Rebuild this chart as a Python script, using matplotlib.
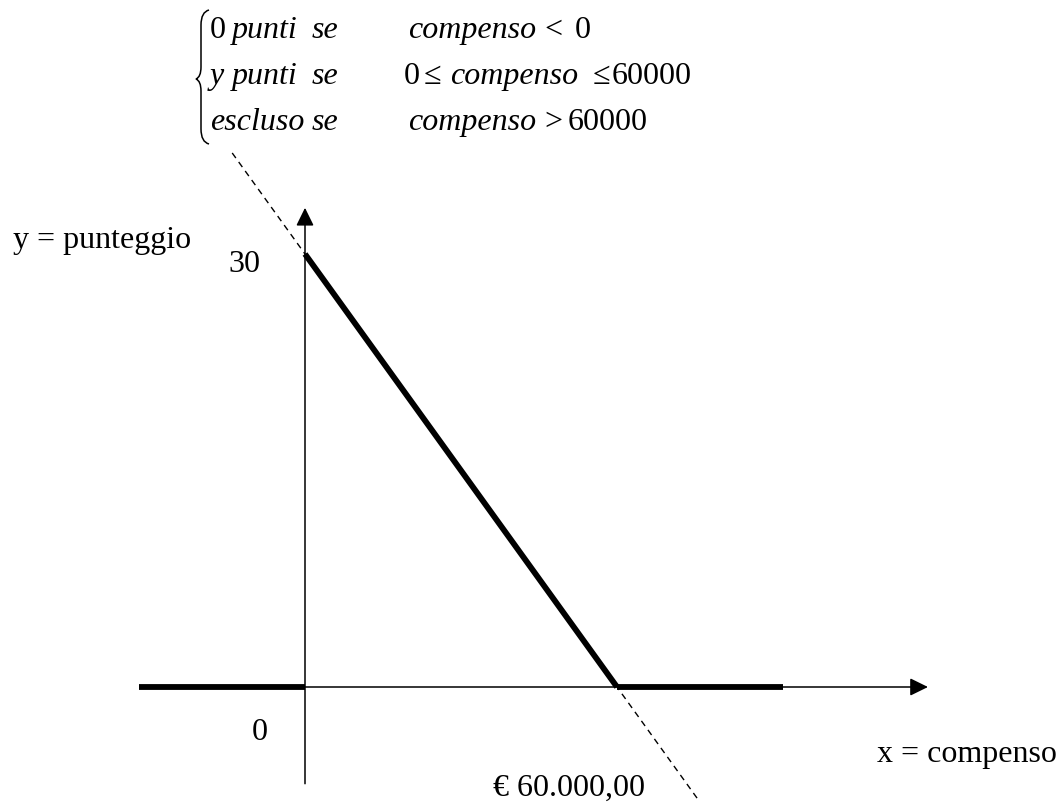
import matplotlib
matplotlib.use('Agg')
import matplotlib.pyplot as plt
from matplotlib.path import Path
from matplotlib.patches import PathPatch

plt.rcParams['font.family'] = ['Liberation Serif', 'DejaVu Serif']

# dati: punteggio in funzione del compenso
compenso_soglia = 60000
punteggio_max = 30

retta_x = [0, 60000]           # tratto y = 30 - compenso / 2000
retta_y = [30, 0]
zero_sx_x = [-32000, 0]        # compenso < 0 -> 0 punti
zero_sx_y = [0, 0]
zero_dx_x = [60000, 92000]     # compenso > 60000 -> escluso
zero_dx_y = [0, 0]
tratteggio_x = [-14000, 75500]  # prolungamento della retta
tratteggio_y = [37, -7.75]

asse_x = [0, 119800]
asse_y = [-6.7, 33.2]

W, H = 1058, 803
fig = plt.figure(figsize=(W / 100, H / 100), dpi=100)
ax = fig.add_axes([0, 0, 1, 1])

# scala: origine in pixel (305, 688), 60000 -> 312 px, 30 -> 433 px
ox, oy = 305, 688
sx = compenso_soglia / 312.0
sy = punteggio_max / 433.0
ax.set_xlim(-ox * sx, (W - ox) * sx)
ax.set_ylim((oy - H) * sy, oy * sy)
ax.axis('off')


def px(x, y):
    return x / W, 1 - y / H


# assi con freccia
freccia = dict(arrowstyle='-|>,head_length=0.55,head_width=0.27',
               mutation_scale=20, lw=1.1, color='black',
               shrinkA=0, shrinkB=0)
ax.annotate('', xy=(asse_x[1], 0), xytext=(asse_x[0], 0), arrowprops=freccia)
ax.annotate('', xy=(0, asse_y[1]), xytext=(0, asse_y[0]), arrowprops=freccia)

ax.plot(tratteggio_x, tratteggio_y, color='black', lw=1.0,
        dashes=(4.5, 3.5))
ax.plot(retta_x, retta_y, color='black', lw=4.2, solid_capstyle='butt')
ax.plot(zero_sx_x, zero_sx_y, color='black', lw=4.2, solid_capstyle='butt')
ax.plot(zero_dx_x, zero_dx_y, color='black', lw=4.2, solid_capstyle='butt')

fs = 23
# etichette
fig.text(*px(13, 248), 'y = punteggio', fontsize=fs, va='baseline')
fig.text(*px(260, 272), '30', fontsize=fs, va='baseline', ha='right')
fig.text(*px(268, 740), '0', fontsize=fs, va='baseline', ha='right')
fig.text(*px(877, 762), 'x = compenso', fontsize=fs, va='baseline')
fig.text(*px(493, 796), '€ 60.000,00', fontsize=fs, va='baseline')

# sistema della formula
righe = [
    (38, [(210, '0', 'normal'), (232, 'punti', 'italic'), (312, 'se', 'italic'),
          (408, 'compenso', 'italic'), (544, '<', 'normal'),
          (575, '0', 'normal')]),
    (84, [(210, 'y', 'italic'), (232, 'punti', 'italic'), (312, 'se', 'italic'),
          (404, '0', 'normal'), (424, '≤', 'normal'),
          (450, 'compenso', 'italic'), (593, '≤', 'normal'),
          (612, '60000', 'normal')]),
    (130, [(210, 'escluso', 'italic'), (312, 'se', 'italic'),
           (408, 'compenso', 'italic'), (544, '>', 'normal'),
           (568, '60000', 'normal')]),
]
for yb, pezzi in righe:
    for xl, testo, stile in pezzi:
        fig.text(*px(xl, yb), testo, fontsize=fs, va='baseline',
                 style=stile)

# parentesi graffa
verts = [px(209, 11), px(201, 13), px(201, 26),
         px(201, 68),
         px(201, 78), px(196, 80),
         px(201, 82), px(201, 92),
         px(201, 130),
         px(201, 143), px(209, 145)]
codes = [Path.MOVETO, Path.CURVE3, Path.CURVE3,
         Path.LINETO,
         Path.CURVE3, Path.CURVE3,
         Path.CURVE3, Path.CURVE3,
         Path.LINETO,
         Path.CURVE3, Path.CURVE3]
fig.patches.append(PathPatch(Path(verts, codes), transform=fig.transFigure,
                             fill=False, lw=1.1, color='black'))

fig.savefig('out.png', dpi=100)
